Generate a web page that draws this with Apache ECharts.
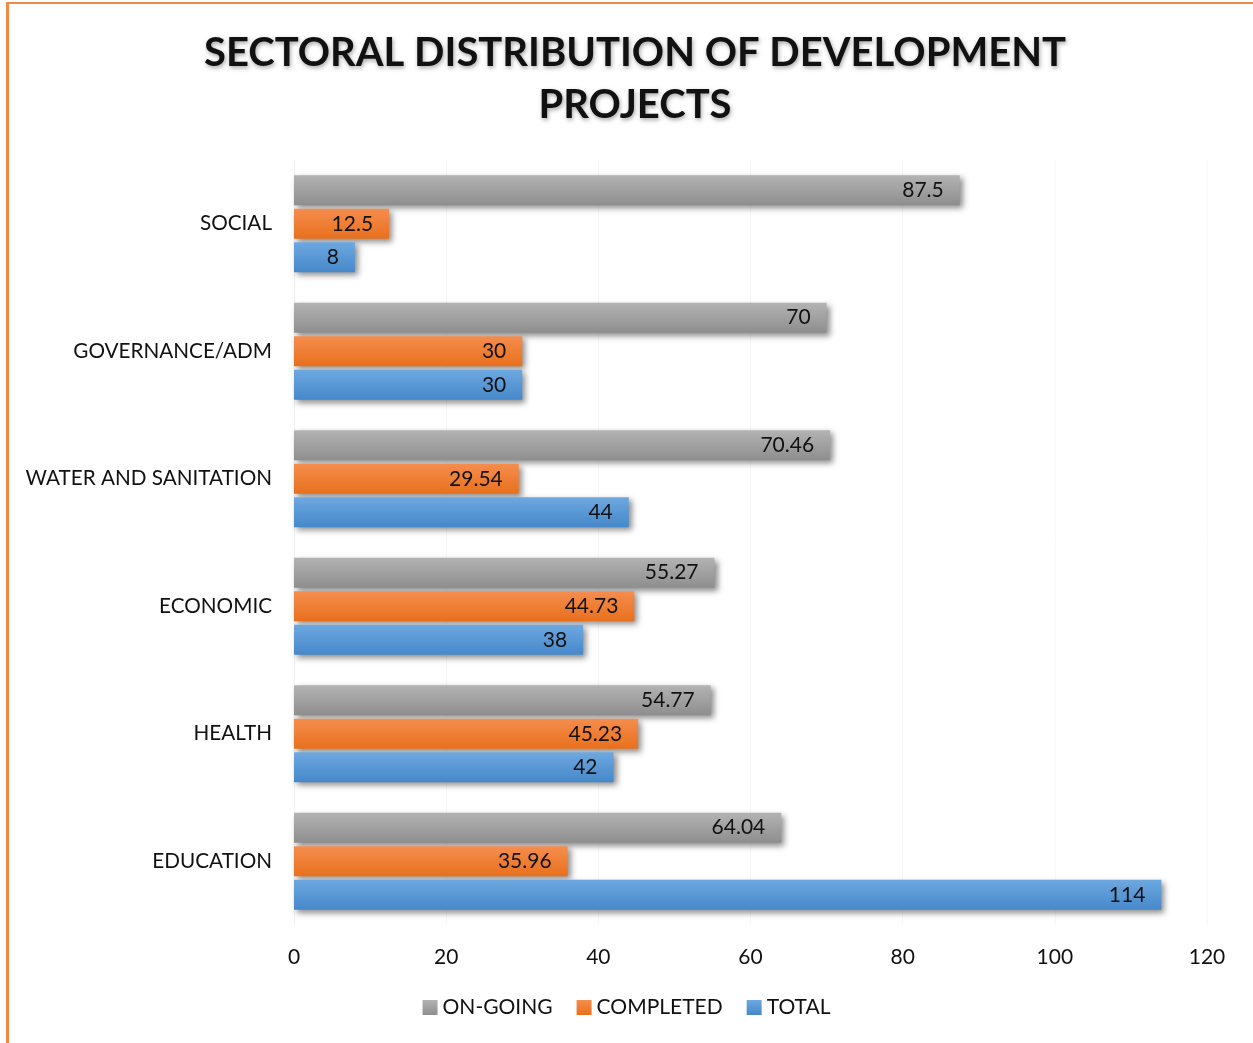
<!DOCTYPE html>
<html>
<head>
<meta charset="utf-8">
<script src="https://cdn.jsdelivr.net/npm/echarts@6/dist/echarts.min.js"></script>
<style>
    html, body { margin: 0; padding: 0; background: #fff; }
    #frame {
        position: absolute; left: 6px; top: 2px; width: 1260px; height: 1060px;
        border-left: 3px solid #f08a45; border-top: 2px solid #f08a45;
    }
    #chart { position: absolute; left: 0; top: 0; width: 1253px; height: 1043px; }
</style>
</head>
<body>
<div id="frame"></div>
<div id="chart"></div>
<script>
const categories = ['EDUCATION', 'HEALTH', 'ECONOMIC', 'WATER AND SANITATION', 'GOVERNANCE/ADM', 'SOCIAL'];
const onGoing = [64.04, 54.77, 55.27, 70.46, 70, 87.5];
const completed = [35.96, 45.23, 44.73, 29.54, 30, 12.5];
const total = [114, 42, 38, 44, 30, 8];
const xTicks = [0, 20, 40, 60, 80, 100, 120];

const FONT = 'Lato';

function grad(top, bottom) {
    return new echarts.graphic.LinearGradient(0, 0, 0, 1, [
        { offset: 0, color: top },
        { offset: 1, color: bottom }
    ]);
}

function barSeries(name, data, c1, c2) {
    return {
        name: name,
        type: 'bar',
        data: data,
        barWidth: 30,
        barGap: '12%',
        itemStyle: {
            color: grad(c1, c2),
            shadowColor: 'rgba(0,0,0,0.45)',
            shadowBlur: 6,
            shadowOffsetX: 3,
            shadowOffsetY: 3
        },
        label: {
            show: true,
            position: 'insideRight',
            distance: 16,
            color: '#111',
            fontFamily: FONT,
            fontSize: 21
        }
    };
}

const myChart = echarts.init(document.getElementById('chart'));
let option = {
    animation: false,
    title: {
        text: 'SECTORAL DISTRIBUTION OF DEVELOPMENT\nPROJECTS',
        left: 630,
        top: 22,
        textAlign: 'center',
        textStyle: {
            fontFamily: FONT,
            fontWeight: 'bold',
            fontSize: 40,
            lineHeight: 52,
            color: '#111',
            textShadowColor: 'rgba(0,0,0,0.35)',
            textShadowBlur: 4,
            textShadowOffsetX: 1,
            textShadowOffsetY: 2
        }
    },
    legend: {
        data: ['ON-GOING', 'COMPLETED', 'TOTAL'],
        bottom: 20,
        left: 'center',
        itemWidth: 15,
        itemHeight: 15,
        itemGap: 24,
        icon: 'rect',
        textStyle: { fontFamily: FONT, fontSize: 21, color: '#111', padding: [0, 0, 0, 0] }
    },
    grid: {
        left: 294,
        right: 46,
        top: 160,
        bottom: 118,
        containLabel: false
    },
    xAxis: {
        type: 'value',
        min: 0,
        max: 120,
        interval: 20,
        axisLine: { show: false },
        axisTick: { show: false },
        axisLabel: {
            color: '#111',
            fontFamily: FONT,
            fontSize: 21,
            margin: 22,
            formatter: function (v) { return xTicks.indexOf(v) >= 0 ? String(v) : ''; }
        },
        splitLine: { lineStyle: { color: '#f7f7f7', width: 1 } }
    },
    yAxis: {
        type: 'category',
        data: categories,
        axisLine: { show: true, lineStyle: { color: '#f0f0f0' } },
        axisTick: { show: false },
        axisLabel: { color: '#111', fontFamily: FONT, fontSize: 20.7, margin: 22 }
    },
    series: [
        barSeries('ON-GOING', onGoing, '#b3b3b3', '#8e8e8e'),
        barSeries('COMPLETED', completed, '#f58d4e', '#e8701c'),
        barSeries('TOTAL', total, '#6ea8e0', '#4588ca')
    ]
};
myChart.setOption(option);
</script>
</body>
</html>
